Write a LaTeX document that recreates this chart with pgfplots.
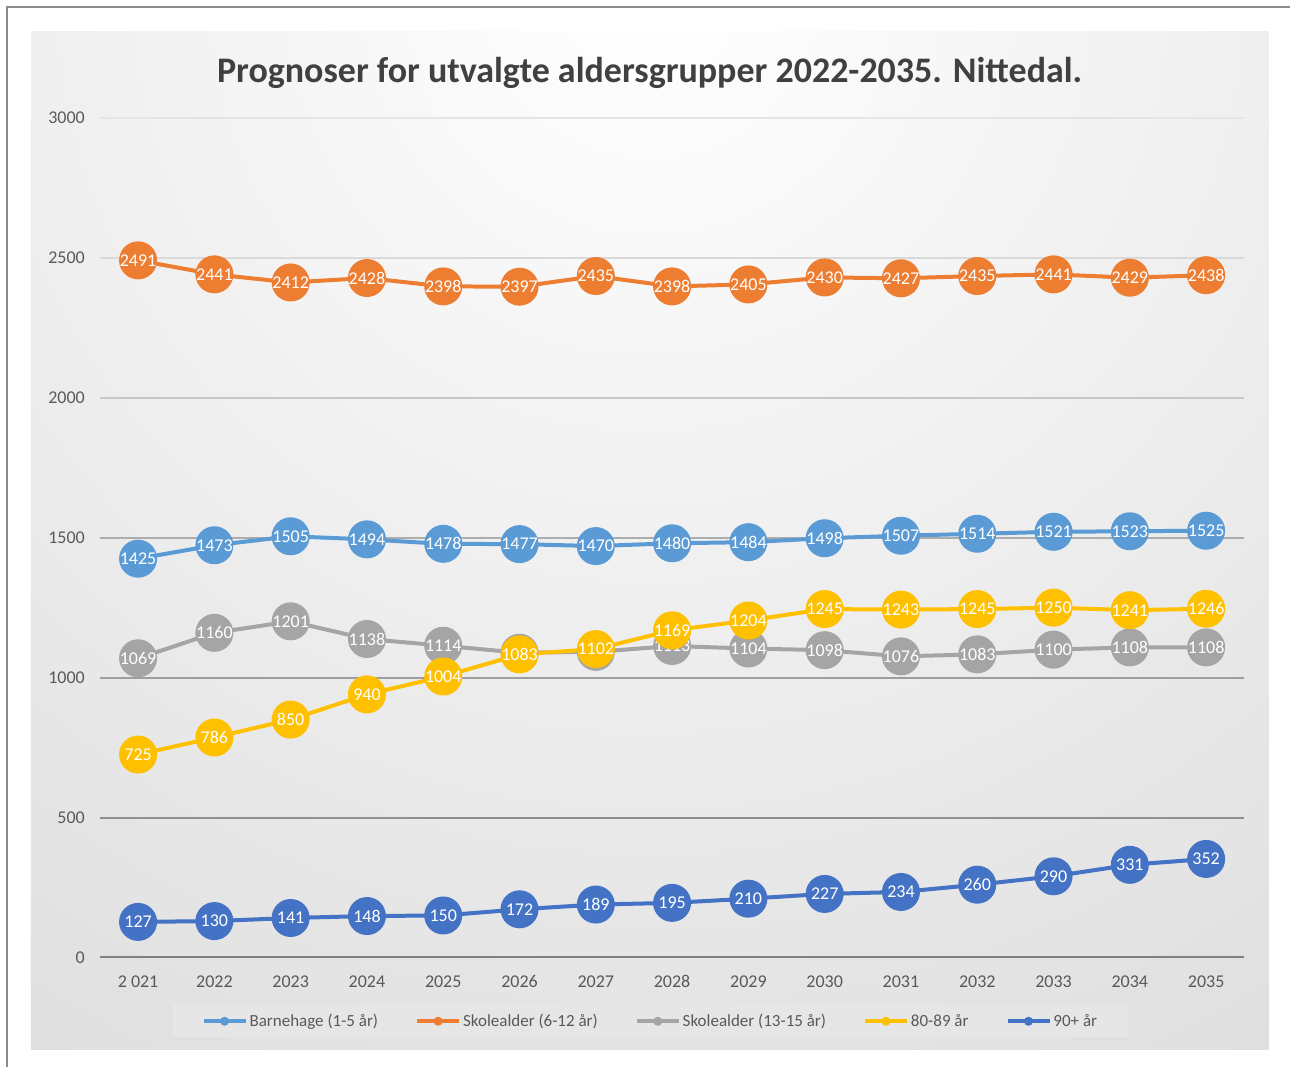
\documentclass[border=0pt]{standalone}
\usepackage{pgfplots}
\pgfplotsset{compat=1.18}
\usepackage{fontspec}
\setmainfont{Carlito}
\definecolor{cBlue}{HTML}{5B9BD5}
\definecolor{cOrange}{HTML}{ED7D31}
\definecolor{cGray}{HTML}{A5A5A5}
\definecolor{cYellow}{HTML}{FFC000}
\definecolor{cDark}{HTML}{4472C4}
\definecolor{tickgray}{HTML}{595959}
\definecolor{titlegray}{HTML}{404040}
\definecolor{legendgray}{HTML}{E6E6E6}
\begin{document}
\begin{tikzpicture}[x=1pt,y=1pt]
\path (0,0) rectangle (1291,1068);
\draw[color=black!45, line width=1.5pt] (7,0) -- (7,1061) -- (1291,1061);
\begin{scope}
\clip (31,18) rectangle (1269,1036);
\shade[inner color=white, outer color=black!23] (650,1080) circle (2250);
\end{scope}
\node[font=\fontsize{36}{36}\bfseries\selectfont, text=titlegray] at (650,995) {Prognoser for utvalgte aldersgrupper 2022-2035. Nittedal.};
\begin{axis}[
  at={(100pt,110pt)}, anchor=south west, scale only axis,
  width=1145pt, height=840pt,
  xmin=2020.5, xmax=2035.5, ymin=0, ymax=3000,
  clip=false,
  xtick={2021,2022,2023,2024,2025,2026,2027,2028,2029,2030,2031,2032,2033,2034,2035},
  xticklabels={{2 021},2022,2023,2024,2025,2026,2027,2028,2029,2030,2031,2032,2033,2034,2035},
  ytick={0,500,1000,1500,2000,2500,3000},
  axis line style={draw=none}, major tick length=0pt,
  /pgf/number format/1000 sep={},
  /pgf/number format/assume math mode=true,
  ticklabel style={font=\fontsize{18}{18}\selectfont, text=tickgray},
  yticklabel style={anchor=east, inner sep=0pt, xshift=-15pt},
  xticklabel style={anchor=north, inner sep=0pt, yshift=-18pt},
  nodes near coords,
  every node near coord/.append style={anchor=center, font=\fontsize{18}{18}\selectfont, text=white, inner sep=0pt},
  every axis plot/.append style={line width=4pt, mark=*, mark size=17pt},
  legend columns=5,
  legend style={at={(0.481,-0.076)}, anchor=center, fill=legendgray, draw=none,
    font=\fontsize{17}{17}\selectfont, text=tickgray, inner xsep=29pt, inner ysep=7pt,
    nodes={inner xsep=2pt},
    /tikz/every even column/.append style={column sep=35pt}},
  legend image code/.code={
    \draw[#1, mark=none, line width=4pt] (0pt,0pt) -- (42pt,0pt);
    \draw[#1, mark size=4pt, line width=1pt] plot coordinates {(21pt,0pt)};
  },
]
\draw[color=black!10, line width=2pt] (axis cs:2020.5,3000) -- (axis cs:2035.5,3000);
\draw[color=black!15, line width=2pt] (axis cs:2020.5,2500) -- (axis cs:2035.5,2500);
\draw[color=black!22, line width=2pt] (axis cs:2020.5,2000) -- (axis cs:2035.5,2000);
\draw[color=black!32, line width=2pt] (axis cs:2020.5,1500) -- (axis cs:2035.5,1500);
\draw[color=black!38, line width=2pt] (axis cs:2020.5,1000) -- (axis cs:2035.5,1000);
\draw[color=black!44, line width=2pt] (axis cs:2020.5,500) -- (axis cs:2035.5,500);
\draw[color=black!50, line width=2pt] (axis cs:2020.5,0) -- (axis cs:2035.5,0);
\addplot[color=cBlue, mark options={fill=cBlue, draw=cBlue}] coordinates {
(2021,1425) (2022,1473) (2023,1505) (2024,1494) (2025,1478) (2026,1477) (2027,1470) (2028,1480)
(2029,1484) (2030,1498) (2031,1507) (2032,1514) (2033,1521) (2034,1523) (2035,1525)};
\addlegendentry{Barnehage (1-5 år)}
\addplot[color=cOrange, mark options={fill=cOrange, draw=cOrange}] coordinates {
(2021,2491) (2022,2441) (2023,2412) (2024,2428) (2025,2398) (2026,2397) (2027,2435) (2028,2398)
(2029,2405) (2030,2430) (2031,2427) (2032,2435) (2033,2441) (2034,2429) (2035,2438)};
\addlegendentry{Skolealder (6-12 år)}
\addplot[color=cGray, mark options={fill=cGray, draw=cGray}] coordinates {
(2021,1069) (2022,1160) (2023,1201) (2024,1138) (2025,1114) (2026,1089) (2027,1092) (2028,1113)
(2029,1104) (2030,1098) (2031,1076) (2032,1083) (2033,1100) (2034,1108) (2035,1108)};
\addlegendentry{Skolealder (13-15 år)}
\addplot[color=cYellow, mark options={fill=cYellow, draw=cYellow}] coordinates {
(2021,725) (2022,786) (2023,850) (2024,940) (2025,1004) (2026,1083) (2027,1102) (2028,1169)
(2029,1204) (2030,1245) (2031,1243) (2032,1245) (2033,1250) (2034,1241) (2035,1246)};
\addlegendentry{80-89 år}
\addplot[color=cDark, mark options={fill=cDark, draw=cDark}] coordinates {
(2021,127) (2022,130) (2023,141) (2024,148) (2025,150) (2026,172) (2027,189) (2028,195)
(2029,210) (2030,227) (2031,234) (2032,260) (2033,290) (2034,331) (2035,352)};
\addlegendentry{90+ år}
\end{axis}
\end{tikzpicture}
\end{document}
